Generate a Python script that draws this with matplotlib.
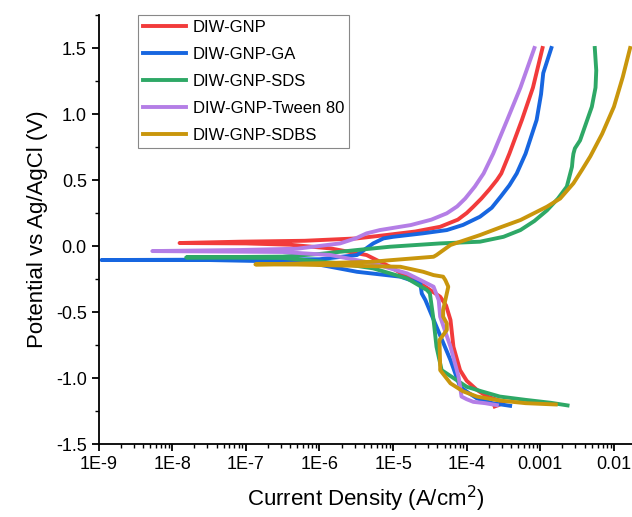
import matplotlib
matplotlib.use("Agg")
import matplotlib.pyplot as plt
import numpy as np
from matplotlib.ticker import FixedLocator, LogLocator, MultipleLocator, NullFormatter

plt.rcParams['font.family'] = ['Liberation Sans', 'DejaVu Sans']

labels = ["DIW-GNP", "DIW-GNP-GA", "DIW-GNP-SDS", "DIW-GNP-Tween 80", "DIW-GNP-SDBS"]
colors = ["#f23b3b", "#1766e0", "#2ea866", "#b47ee6", "#c9960c"]

# each curve: cathodic branch (-1.2 V up to Ecorr) then anodic branch (Ecorr up to 1.5 V)
# current given as log10(A/cm2)
gnp_E = [-1.215, -1.2, -1.18, -1.14, -1.09, -1.02, -0.94, -0.763, -0.56, -0.45, -0.384, -0.283, -0.22, -0.157,
         -0.068, -0.018, 0.01, 0.02,
         0.023, 0.033, 0.04, 0.058, 0.083, 0.11, 0.146, 0.2, 0.25, 0.298, 0.36, 0.43, 0.5, 0.55, 0.7, 0.955, 1.2, 1.5]
gnp_logi = [-3.62, -3.55, -3.5, -3.72, -3.86, -4.0, -4.09, -4.18, -4.22, -4.28, -4.36, -4.63, -4.85, -5.04,
            -5.36, -5.85, -6.4, -7.0,
            -7.90, -7.08, -6.2, -5.49, -5.1, -4.7, -4.36, -4.12, -4.0, -3.91, -3.80, -3.69, -3.59, -3.53, -3.42, -3.25, -3.1, -2.97]

ga_E = [-1.21, -1.19, -1.154, -1.11, -1.066, -0.864, -0.611, -0.41, -0.36, -0.283, -0.232, -0.195, -0.157, -0.12,
        -0.106,
        -0.106, -0.1, -0.068, -0.02, 0.02, 0.058, 0.07, 0.096, 0.121, 0.16, 0.222, 0.29, 0.373, 0.46, 0.55, 0.7, 0.955,
        1.15, 1.31, 1.5]
ga_logi = [-3.41, -3.65, -3.86, -3.98, -4.09, -4.22, -4.41, -4.56, -4.61, -4.63, -4.90, -5.49, -5.85, -6.2,
           -7.5,
           -8.96, -6.0, -5.49, -5.37, -5.27, -5.13, -5.0, -4.6, -4.27, -4.05, -3.82, -3.66, -3.54, -3.42, -3.32, -3.2,
           -3.05, -2.99, -2.96, -2.85]

sds_E = [-1.207, -1.187, -1.165, -1.14, -1.1, -1.066, -0.94, -0.763, -0.56, -0.358, -0.333, -0.245, -0.169, -0.131,
         -0.09,
         -0.086, -0.08, -0.06, -0.03, -0.005, 0.02, 0.033, 0.07, 0.121, 0.19, 0.27, 0.36, 0.45, 0.6, 0.66, 0.70, 0.74,
         0.80, 1.055, 1.2, 1.33, 1.5]
sds_logi = [-2.63, -2.86, -3.2, -3.55, -3.8, -4.0, -4.34, -4.41, -4.45, -4.50, -4.54, -4.81, -5.27, -5.72,
            -6.5,
            -7.81, -6.5, -6.0, -5.49, -5.04, -4.36, -3.82, -3.5, -3.27, -3.08, -2.91, -2.76, -2.64, -2.57, -2.56,
            -2.55, -2.53, -2.46, -2.30, -2.25, -2.24, -2.26]

tw_E = [-1.205, -1.19, -1.18, -1.16, -1.14, -0.99, -0.763, -0.535, -0.41, -0.308, -0.207, -0.131, -0.068, -0.045,
        -0.038,
        -0.038, -0.03, -0.02, 0.02, 0.06, 0.096, 0.121, 0.159, 0.2, 0.248, 0.3, 0.36, 0.45, 0.55, 0.7, 0.955, 1.2, 1.5]
tw_logi = [-3.59, -3.75, -3.91, -4.0, -4.07, -4.11, -4.22, -4.36, -4.38, -4.45, -4.81, -5.27, -5.85, -6.5,
           -8.27,
           -8.27, -7.08, -6.3, -5.72, -5.5, -5.36, -5.18, -4.76, -4.48, -4.27, -4.13, -4.02, -3.89, -3.77, -3.64,
           -3.45, -3.27, -3.08]

sdbs_E = [-1.2, -1.19, -1.17, -1.14, -1.1, -1.04, -0.94, -0.914, -0.712, -0.636, -0.586, -0.535, -0.485, -0.308,
          -0.258, -0.232, -0.22, -0.195, -0.157, -0.14,
          -0.139, -0.13, -0.119, -0.11, -0.081, -0.068, 0.008, 0.04, 0.083, 0.14, 0.197, 0.298, 0.36, 0.475, 0.58,
          0.68, 0.85, 1.055, 1.28, 1.5]
sdbs_logi = [-2.79, -3.2, -3.55, -3.86, -4.05, -4.22, -4.36, -4.36, -4.37, -4.27, -4.27, -4.32, -4.32, -4.25,
             -4.29, -4.32, -4.45, -4.59, -4.9, -6.3,
             -6.87, -6.0, -5.27, -5.1, -4.45, -4.41, -4.22, -4.05, -3.82, -3.55, -3.27, -2.91, -2.73, -2.55, -2.43,
             -2.32, -2.16, -2.0, -1.88, -1.78]

curves = [(gnp_logi, gnp_E), (ga_logi, ga_E), (sds_logi, sds_E), (tw_logi, tw_E), (sdbs_logi, sdbs_E)]

xticks = [1e-9, 1e-8, 1e-7, 1e-6, 1e-5, 1e-4, 1e-3, 1e-2]
xticklabels = ["1E-9", "1E-8", "1E-7", "1E-6", "1E-5", "1E-4", "0.001", "0.01"]
yticks = [-1.5, -1.0, -0.5, 0.0, 0.5, 1.0, 1.5]

fig = plt.figure(figsize=(6.32, 5.17), dpi=100)
ax = fig.add_axes([0.156, 0.141, 0.844, 0.83])

for (li, e), lab, c in zip(curves, labels, colors):
    ax.plot(10 ** np.array(li), e, color=c, lw=2.8, label=lab, solid_joinstyle='round')

ax.set_xscale('log')
ax.set_xlim(1e-9, 0.0176)
ax.set_ylim(-1.5, 1.75)
ax.xaxis.set_major_locator(FixedLocator(xticks))
ax.set_xticklabels(xticklabels)
ax.xaxis.set_minor_locator(LogLocator(base=10, subs=np.arange(2, 10)))
ax.xaxis.set_minor_formatter(NullFormatter())
ax.set_yticks(yticks)
ax.set_yticklabels([f"{v:.1f}" for v in yticks])
ax.yaxis.set_minor_locator(MultipleLocator(0.25))

for s in ['top', 'right']:
    ax.spines[s].set_visible(False)
for s in ['left', 'bottom']:
    ax.spines[s].set_linewidth(1.3)
ax.tick_params(which='major', direction='out', length=5, width=1.3, labelsize=13)
ax.tick_params(which='minor', direction='out', length=3, width=1.0)

ax.set_xlabel("Current Density (A/cm$^2$)", fontsize=16, labelpad=8)
ax.set_ylabel("Potential vs Ag/AgCl (V)", fontsize=16, labelpad=6)

leg = ax.legend(loc='upper left', bbox_to_anchor=(0.074, 1.0), borderaxespad=0, fontsize=12,
                fancybox=False, edgecolor='#888888', framealpha=1, handlelength=2.6,
                handletextpad=0.4, labelspacing=0.72, borderpad=0.3)
leg.get_frame().set_linewidth(0.8)

fig.savefig("out.png", dpi=100)
